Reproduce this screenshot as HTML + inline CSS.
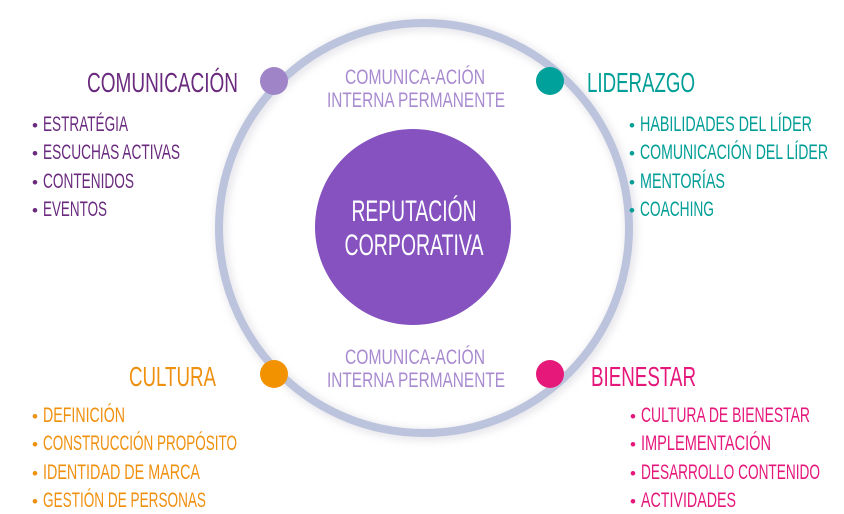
<!DOCTYPE html>
<html><head><meta charset="utf-8"><style>
html,body{margin:0;padding:0;background:#fff;}
svg{display:block;font-family:"Liberation Sans Narrow","Liberation Sans",sans-serif;}
</style></head><body>
<svg width="844" height="514" viewBox="0 0 844 514" xmlns="http://www.w3.org/2000/svg">
<defs>
<filter id="sh" x="-20%" y="-20%" width="140%" height="140%"><feGaussianBlur stdDeviation="4"/></filter>
</defs>
<circle cx="426" cy="230" r="205" fill="none" stroke="#d8d8e0" stroke-width="12" filter="url(#sh)" opacity="0.6"/>
<circle cx="424" cy="228" r="205" fill="none" stroke="#bcc3dc" stroke-width="8"/>
<circle cx="413" cy="227" r="98" fill="#8552c0"/>
<g fill="#fff" font-size="30" text-anchor="middle">
<text x="414" y="221" textLength="125" lengthAdjust="spacingAndGlyphs">REPUTACIÓN</text>
<text x="414" y="255" textLength="139" lengthAdjust="spacingAndGlyphs">CORPORATIVA</text>
</g>
<circle cx="274" cy="81" r="14" fill="#a084c8"/>
<circle cx="550" cy="81" r="14" fill="#00a19a"/>
<circle cx="274" cy="374" r="14" fill="#f39200"/>
<circle cx="550" cy="374" r="14" fill="#e6197a"/>
<g fill="#a88ad0" font-size="21" text-anchor="middle">
<text x="415" y="84" textLength="140" lengthAdjust="spacingAndGlyphs">COMUNICA-ACIÓN</text>
<text x="416" y="107" textLength="178" lengthAdjust="spacingAndGlyphs">INTERNA PERMANENTE</text>
<text x="415" y="364" textLength="140" lengthAdjust="spacingAndGlyphs">COMUNICA-ACIÓN</text>
<text x="416" y="387" textLength="178" lengthAdjust="spacingAndGlyphs">INTERNA PERMANENTE</text>
</g>
<g font-size="28">
<text x="87" y="92" fill="#6a2a7e" textLength="151" lengthAdjust="spacingAndGlyphs">COMUNICACIÓN</text>
<text x="587" y="92" fill="#009e96" textLength="108" lengthAdjust="spacingAndGlyphs">LIDERAZGO</text>
<text x="129" y="386" fill="#f0900f" textLength="87" lengthAdjust="spacingAndGlyphs">CULTURA</text>
<text x="591" y="386" fill="#e5177b" textLength="105" lengthAdjust="spacingAndGlyphs">BIENESTAR</text>
</g>
<g font-size="21" fill="#6a2a7e">
<text x="32" y="131" font-size="17">•</text><text x="43" y="131" textLength="85" lengthAdjust="spacingAndGlyphs">ESTRATÉGIA</text>
<text x="32" y="159" font-size="17">•</text><text x="43" y="159" textLength="137" lengthAdjust="spacingAndGlyphs">ESCUCHAS ACTIVAS</text>
<text x="32" y="188" font-size="17">•</text><text x="43" y="188" textLength="91" lengthAdjust="spacingAndGlyphs">CONTENIDOS</text>
<text x="32" y="216" font-size="17">•</text><text x="43" y="216" textLength="64" lengthAdjust="spacingAndGlyphs">EVENTOS</text>
</g>
<g font-size="21" fill="#009e96">
<text x="629" y="131" font-size="17">•</text><text x="640" y="131" textLength="172" lengthAdjust="spacingAndGlyphs">HABILIDADES DEL LÍDER</text>
<text x="629" y="159" font-size="17">•</text><text x="640" y="159" textLength="188" lengthAdjust="spacingAndGlyphs">COMUNICACIÓN DEL LÍDER</text>
<text x="629" y="188" font-size="17">•</text><text x="640" y="188" textLength="85" lengthAdjust="spacingAndGlyphs">MENTORÍAS</text>
<text x="629" y="216" font-size="17">•</text><text x="640" y="216" textLength="74" lengthAdjust="spacingAndGlyphs">COACHING</text>
</g>
<g font-size="21" fill="#f0900f">
<text x="32" y="422" font-size="17">•</text><text x="43" y="422" textLength="82" lengthAdjust="spacingAndGlyphs">DEFINICIÓN</text>
<text x="32" y="450" font-size="17">•</text><text x="43" y="450" textLength="194" lengthAdjust="spacingAndGlyphs">CONSTRUCCIÓN PROPÓSITO</text>
<text x="32" y="479" font-size="17">•</text><text x="43" y="479" textLength="157" lengthAdjust="spacingAndGlyphs">IDENTIDAD DE MARCA</text>
<text x="32" y="507" font-size="17">•</text><text x="43" y="507" textLength="163" lengthAdjust="spacingAndGlyphs">GESTIÓN DE PERSONAS</text>
</g>
<g font-size="21" fill="#e5177b">
<text x="630" y="422" font-size="17">•</text><text x="641" y="422" textLength="169" lengthAdjust="spacingAndGlyphs">CULTURA DE BIENESTAR</text>
<text x="630" y="450" font-size="17">•</text><text x="641" y="450" textLength="130" lengthAdjust="spacingAndGlyphs">IMPLEMENTACIÓN</text>
<text x="630" y="479" font-size="17">•</text><text x="641" y="479" textLength="179" lengthAdjust="spacingAndGlyphs">DESARROLLO CONTENIDO</text>
<text x="630" y="507" font-size="17">•</text><text x="641" y="507" textLength="95" lengthAdjust="spacingAndGlyphs">ACTIVIDADES</text>
</g>
</svg>
</body></html>
